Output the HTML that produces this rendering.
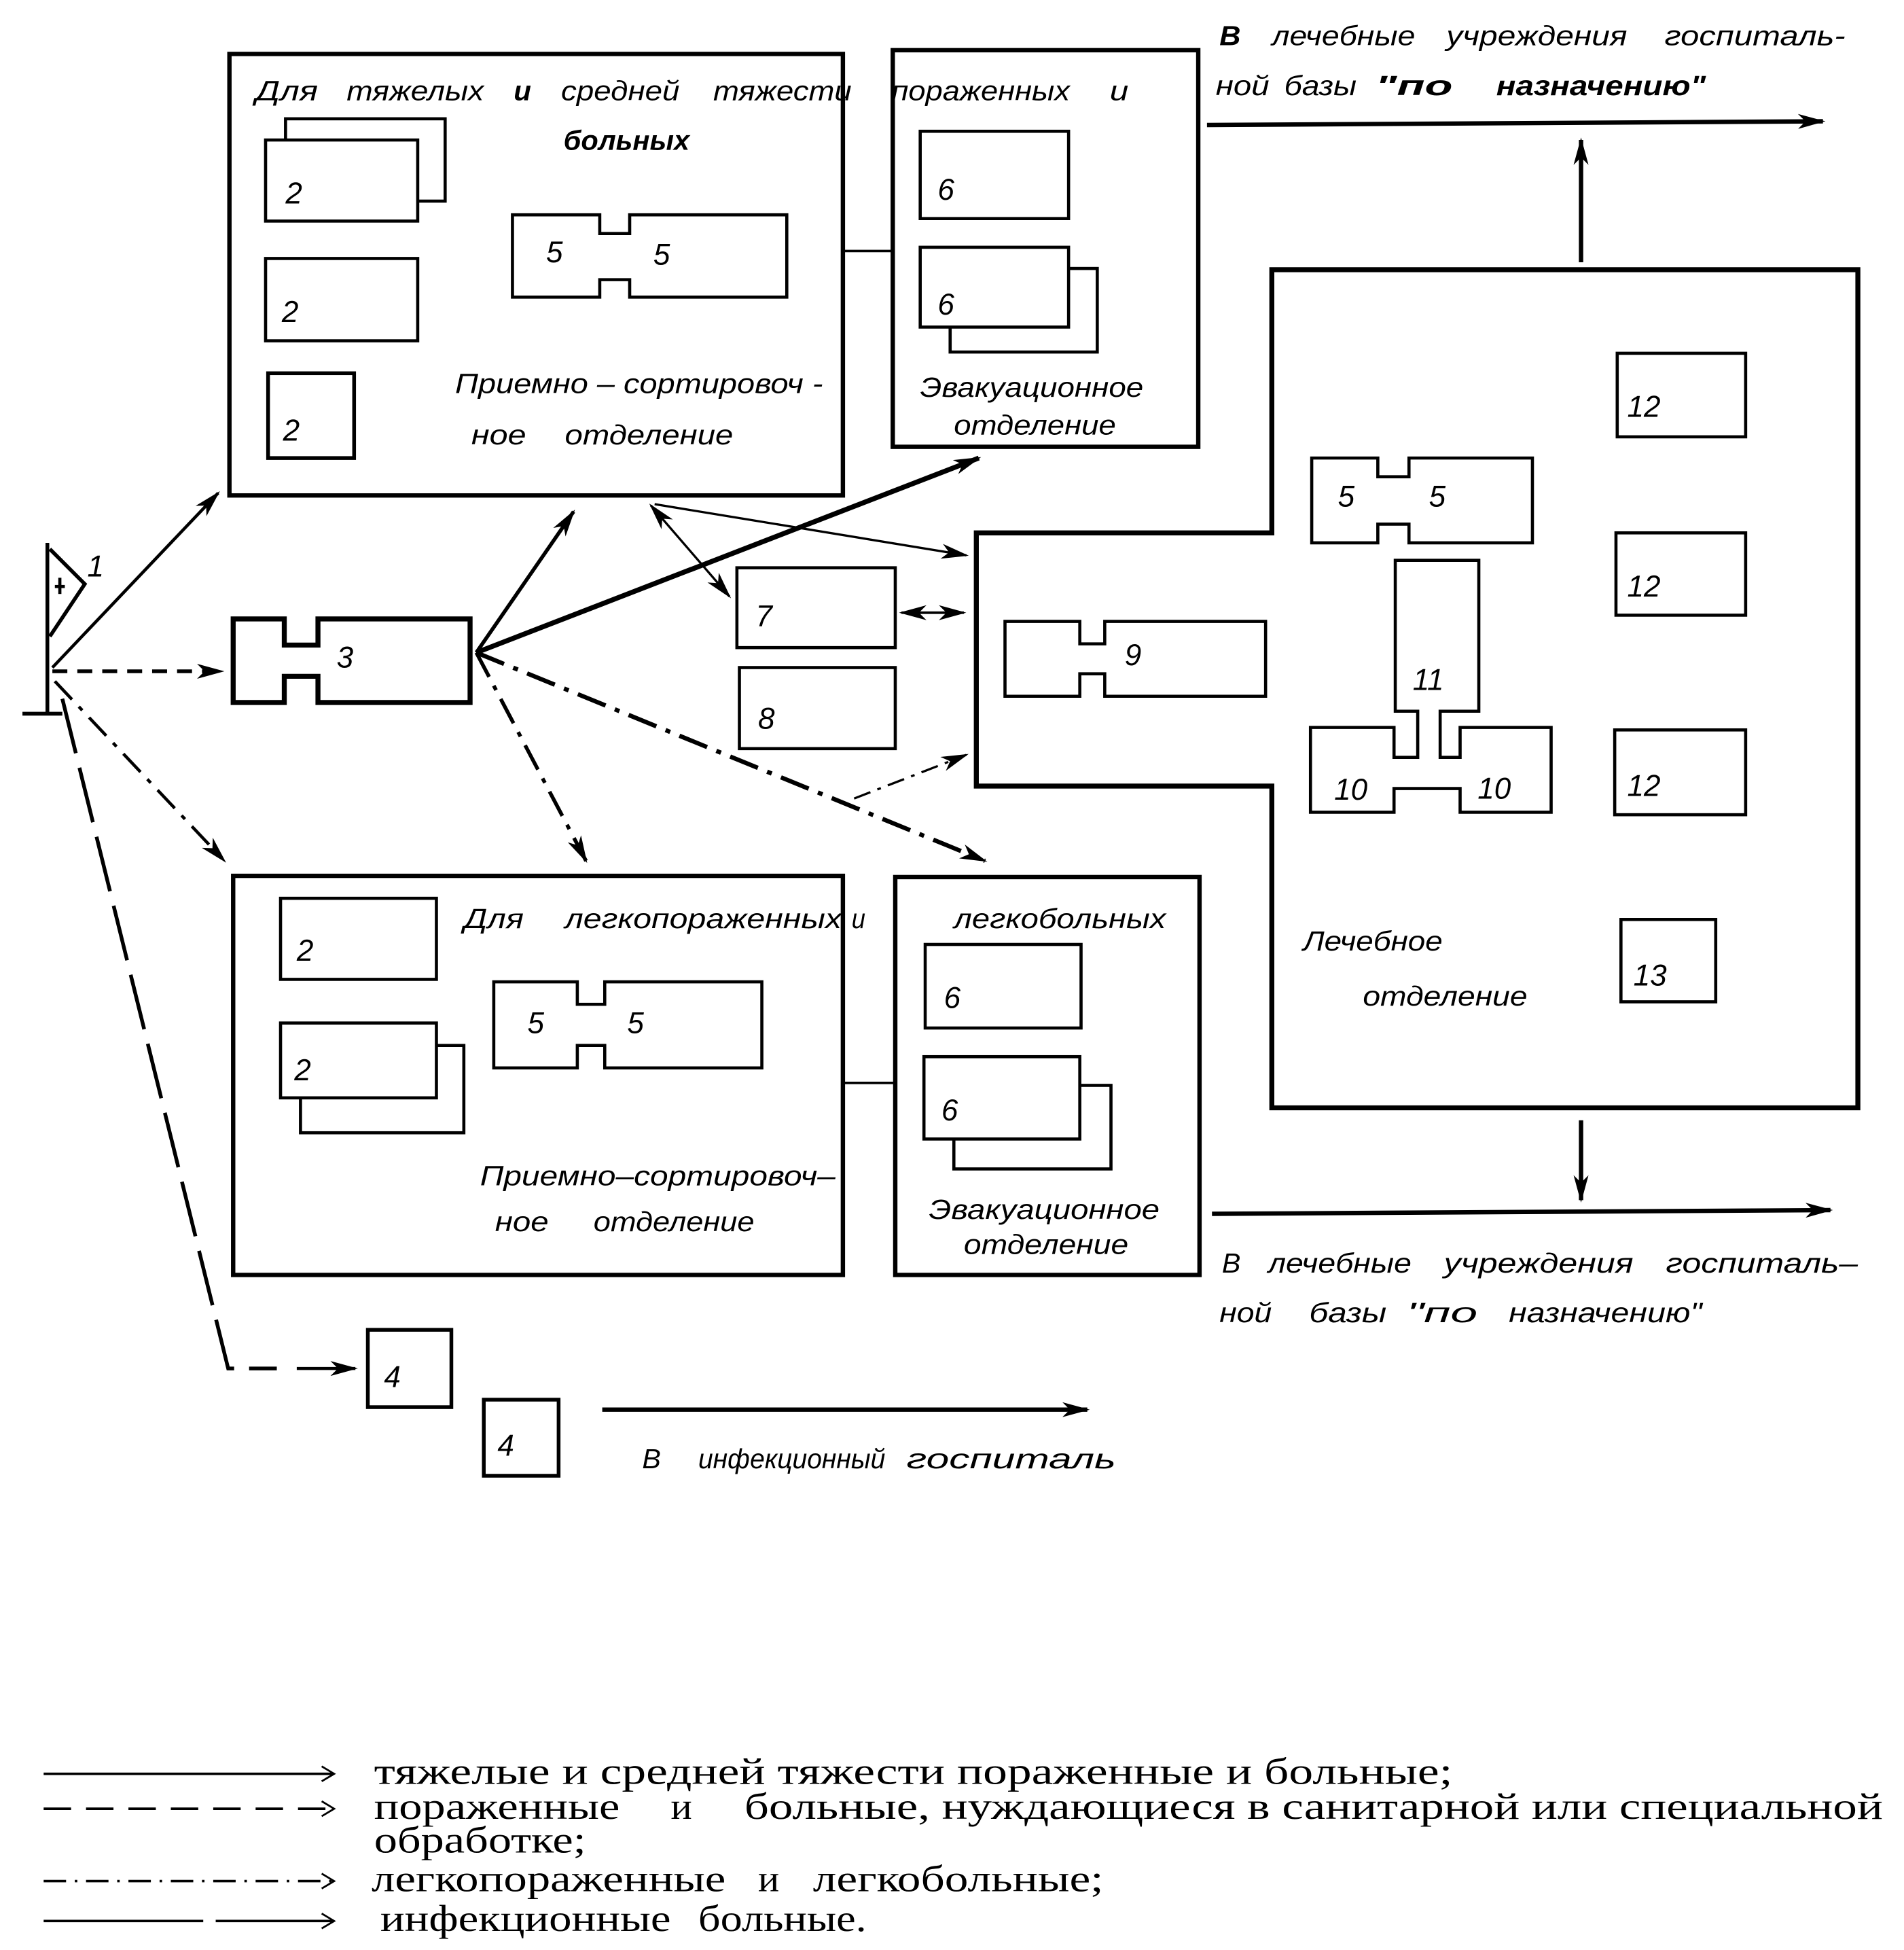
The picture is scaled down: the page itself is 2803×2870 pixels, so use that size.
<!DOCTYPE html>
<html><head><meta charset="utf-8">
<style>
html,body{margin:0;padding:0;background:#fff;}
svg{display:block;}
.t{font-family:"Liberation Sans","DejaVu Sans",sans-serif;font-style:italic;font-size:22px;fill:#000;}
.n{font-family:"Liberation Sans","DejaVu Sans",sans-serif;font-style:italic;font-size:24px;fill:#000;}
.l{font-family:"Liberation Serif","DejaVu Serif",serif;font-size:30px;fill:#000;}
</style></head>
<body>
<svg width="2803" height="2870" viewBox="0 0 1527 1563" xmlns="http://www.w3.org/2000/svg">
<defs>
<marker id="a" markerWidth="22" markerHeight="12" refX="20" refY="6" orient="auto" markerUnits="userSpaceOnUse">
<path d="M0,0 L22,6 L0,12 L6,6 Z" fill="#000"/>
</marker>
<marker id="s" markerWidth="22" markerHeight="12" refX="2" refY="6" orient="auto" markerUnits="userSpaceOnUse">
<path d="M22,0 L0,6 L22,12 L16,6 Z" fill="#000"/>
</marker>
<marker id="o" markerWidth="14" markerHeight="14" refX="12" refY="7" orient="auto" markerUnits="userSpaceOnUse">
<path d="M2,1 L12,7 L2,13" fill="none" stroke="#000" stroke-width="1.5"/>
</marker>
</defs>
<g fill="none" stroke="#000">
<rect x="184" y="43" width="492" height="354" stroke-width="3.5"/>
<rect x="716" y="40" width="245" height="318" stroke-width="3.5"/>
<line x1="676" y1="201" x2="716" y2="201" stroke-width="2"/>
<rect x="229" y="95" width="128" height="66" stroke-width="2.5"/>
<rect x="213" y="112" width="122" height="65" fill="#fff" stroke-width="2.5"/>
<rect x="213" y="207" width="122" height="66" stroke-width="2.5"/>
<rect x="215" y="299" width="69" height="68" stroke-width="3"/>
<path d="M411,172 H481 V187 H505 V172 H631 V238 H505 V224 H481 V238 H411 Z" stroke-width="2.5"/>
<rect x="738" y="105" width="119" height="70" stroke-width="2.5"/>
<rect x="762" y="215" width="118" height="67" stroke-width="2.5"/>
<rect x="738" y="198" width="119" height="64" fill="#fff" stroke-width="2.5"/>
<path d="M1020,216 H1490 V888 H1020 V630 H783 V427 H1020 Z" stroke-width="4"/>
<path d="M1052,367 H1105 V382 H1130 V367 H1229 V435 H1130 V420 H1105 V435 H1052 Z" stroke-width="2.5"/>
<rect x="1297" y="283" width="103" height="67" stroke-width="2.5"/>
<rect x="1296" y="427" width="104" height="66" stroke-width="2.5"/>
<rect x="1295" y="585" width="105" height="68" stroke-width="2.5"/>
<rect x="1300" y="737" width="76" height="66" stroke-width="2.5"/>
<path d="M1119,449 H1186 V570 H1155 V607 H1171 V583 H1244 V651 H1171 V632 H1118 V651 H1051 V583 H1118 V607 H1137 V570 H1119 Z" stroke-width="2.5"/>
<path d="M806,498 H866 V516 H886 V498 H1015 V558 H886 V540 H866 V558 H806 Z" stroke-width="2.5"/>
<rect x="591" y="455" width="127" height="64" stroke-width="2.5"/>
<rect x="593" y="535" width="125" height="65" stroke-width="2.5"/>
<path d="M187,496 H228 V517 H255 V496 H377 V563 H255 V542 H228 V563 H187 Z" stroke-width="4"/>
<line x1="38" y1="435" x2="38" y2="572" stroke-width="3"/>
<line x1="18" y1="572" x2="50" y2="572" stroke-width="3"/>
<path d="M40,440 L68,468 L40,510" stroke-width="3"/>
<line x1="44" y1="470" x2="52" y2="470" stroke-width="2.5"/>
<line x1="48" y1="463" x2="48" y2="476" stroke-width="2.5"/>
<rect x="187" y="702" width="489" height="320" stroke-width="3.5"/>
<rect x="718" y="703" width="244" height="319" stroke-width="3.5"/>
<line x1="676" y1="868" x2="718" y2="868" stroke-width="2"/>
<rect x="225" y="720" width="125" height="65" stroke-width="2.5"/>
<rect x="241" y="838" width="131" height="70" stroke-width="2.5"/>
<rect x="225" y="820" width="125" height="60" fill="#fff" stroke-width="2.5"/>
<path d="M396,787 H463 V805 H485 V787 H611 V856 H485 V838 H463 V856 H396 Z" stroke-width="2.5"/>
<rect x="742" y="757" width="125" height="67" stroke-width="2.5"/>
<rect x="765" y="870" width="126" height="67" stroke-width="2.5"/>
<rect x="741" y="847" width="125" height="66" fill="#fff" stroke-width="2.5"/>
<rect x="295" y="1066" width="67" height="62" stroke-width="3"/>
<rect x="388" y="1122" width="60" height="61" stroke-width="3"/>
<line x1="968" y1="100" x2="1462" y2="97" stroke-width="3.5" marker-end="url(#a)"/>
<line x1="1268" y1="210" x2="1268" y2="112" stroke-width="3.5" marker-end="url(#a)"/>
<line x1="1268" y1="898" x2="1268" y2="962" stroke-width="3.5" marker-end="url(#a)"/>
<line x1="972" y1="973" x2="1468" y2="970" stroke-width="3.5" marker-end="url(#a)"/>
<line x1="483" y1="1130" x2="872" y2="1130" stroke-width="3.5" marker-end="url(#a)"/>
<line x1="723" y1="491" x2="773" y2="491" stroke-width="2" marker-start="url(#s)" marker-end="url(#a)"/>
<line x1="42" y1="535" x2="175" y2="395" stroke-width="2.5" marker-end="url(#a)"/>
<line x1="42" y1="538" x2="178" y2="538" stroke-width="3" stroke-dasharray="12,8" marker-end="url(#a)"/>
<line x1="44" y1="546" x2="180" y2="690" stroke-width="2.5" stroke-dasharray="20,8,4,8" marker-end="url(#a)"/>
<polyline points="50,560 183,1097 222,1097" stroke-width="3" stroke-dasharray="45,12"/>
<line x1="238" y1="1097" x2="285" y2="1097" stroke-width="2.5" marker-end="url(#a)"/>
<line x1="382" y1="523" x2="460" y2="410" stroke-width="3" marker-end="url(#a)"/>
<line x1="382" y1="523" x2="785" y2="367" stroke-width="4" marker-end="url(#a)"/>
<line x1="382" y1="523" x2="470" y2="690" stroke-width="3" stroke-dasharray="22,8,4,8" marker-end="url(#a)"/>
<line x1="382" y1="523" x2="790" y2="690" stroke-width="3.5" stroke-dasharray="24,8,4,8" marker-end="url(#a)"/>
<line x1="522" y1="405" x2="585" y2="478" stroke-width="1.8" marker-start="url(#s)" marker-end="url(#a)"/>
<line x1="525" y1="404" x2="775" y2="445" stroke-width="1.8" marker-end="url(#a)"/>
<line x1="685" y1="640" x2="775" y2="605" stroke-width="1.8" stroke-dasharray="14,6,3,6" marker-end="url(#a)"/>
<line x1="35" y1="1422" x2="268" y2="1422" stroke-width="2" marker-end="url(#o)"/>
<line x1="35" y1="1450" x2="268" y2="1450" stroke-width="2" stroke-dasharray="22,12" marker-end="url(#o)"/>
<line x1="35" y1="1508" x2="268" y2="1508" stroke-width="2" stroke-dasharray="18,7,2,7" marker-end="url(#o)"/>
<line x1="35" y1="1540" x2="268" y2="1540" stroke-width="2" stroke-dasharray="128,10" marker-end="url(#o)"/>
</g>
<g lengthAdjust="spacingAndGlyphs">
<text class="t" x="205" y="80" textLength="50" lengthAdjust="spacingAndGlyphs">Для</text>
<text class="t" x="278" y="80" textLength="110" lengthAdjust="spacingAndGlyphs">тяжелых</text>
<text class="t" x="412" y="80" font-weight="bold" textLength="14" lengthAdjust="spacingAndGlyphs">и</text>
<text class="t" x="450" y="80" textLength="95" lengthAdjust="spacingAndGlyphs">средней</text>
<text class="t" x="572" y="80" textLength="111" lengthAdjust="spacingAndGlyphs">тяжести</text>
<text class="t" x="715" y="80" textLength="143" lengthAdjust="spacingAndGlyphs">пораженных</text>
<text class="t" x="890" y="80" textLength="15" lengthAdjust="spacingAndGlyphs">и</text>
<text class="t" x="452" y="120" font-weight="bold" textLength="101" lengthAdjust="spacingAndGlyphs">больных</text>
<text class="t" x="365" y="315" textLength="295" lengthAdjust="spacingAndGlyphs">Приемно – сортировоч -</text>
<text class="t" x="378" y="356" textLength="44" lengthAdjust="spacingAndGlyphs">ное</text>
<text class="t" x="453" y="356" textLength="135" lengthAdjust="spacingAndGlyphs">отделение</text>
<text class="t" x="738" y="318" textLength="179" lengthAdjust="spacingAndGlyphs">Эвакуационное</text>
<text class="t" x="765" y="348" textLength="130" lengthAdjust="spacingAndGlyphs">отделение</text>
<text class="t" x="978" y="36" font-weight="bold" textLength="17" lengthAdjust="spacingAndGlyphs">В</text>
<text class="t" x="1020" y="36" textLength="115" lengthAdjust="spacingAndGlyphs">лечебные</text>
<text class="t" x="1160" y="36" textLength="145" lengthAdjust="spacingAndGlyphs">учреждения</text>
<text class="t" x="1335" y="36" textLength="145" lengthAdjust="spacingAndGlyphs">госпиталь-</text>
<text class="t" x="975" y="76" textLength="43" lengthAdjust="spacingAndGlyphs">ной</text>
<text class="t" x="1030" y="76" textLength="58" lengthAdjust="spacingAndGlyphs">базы</text>
<text class="t" x="1103" y="76" font-weight="bold" textLength="62" lengthAdjust="spacingAndGlyphs">"по</text>
<text class="t" x="1200" y="76" font-weight="bold" textLength="168" lengthAdjust="spacingAndGlyphs">назначению"</text>
<text class="t" x="1045" y="762" textLength="112" lengthAdjust="spacingAndGlyphs">Лечебное</text>
<text class="t" x="1093" y="806" textLength="132" lengthAdjust="spacingAndGlyphs">отделение</text>
<text class="t" x="980" y="1020" textLength="15" lengthAdjust="spacingAndGlyphs">В</text>
<text class="t" x="1017" y="1020" textLength="115" lengthAdjust="spacingAndGlyphs">лечебные</text>
<text class="t" x="1158" y="1020" textLength="152" lengthAdjust="spacingAndGlyphs">учреждения</text>
<text class="t" x="1336" y="1020" textLength="154" lengthAdjust="spacingAndGlyphs">госпиталь–</text>
<text class="t" x="978" y="1060" textLength="42" lengthAdjust="spacingAndGlyphs">ной</text>
<text class="t" x="1050" y="1060" textLength="62" lengthAdjust="spacingAndGlyphs">базы</text>
<text class="t" x="1128" y="1060" textLength="57" lengthAdjust="spacingAndGlyphs">"по</text>
<text class="t" x="1210" y="1060" textLength="155" lengthAdjust="spacingAndGlyphs">назначению"</text>
<text class="t" x="372" y="744" textLength="48" lengthAdjust="spacingAndGlyphs">Для</text>
<text class="t" x="453" y="744" textLength="222" lengthAdjust="spacingAndGlyphs">легкопораженных</text>
<text class="t" x="683" y="744" textLength="11" lengthAdjust="spacingAndGlyphs">и</text>
<text class="t" x="765" y="744" textLength="170" lengthAdjust="spacingAndGlyphs">легкобольных</text>
<text class="t" x="385" y="950" textLength="285" lengthAdjust="spacingAndGlyphs">Приемно–сортировоч–</text>
<text class="t" x="397" y="987" textLength="43" lengthAdjust="spacingAndGlyphs">ное</text>
<text class="t" x="476" y="987" textLength="129" lengthAdjust="spacingAndGlyphs">отделение</text>
<text class="t" x="745" y="977" textLength="185" lengthAdjust="spacingAndGlyphs">Эвакуационное</text>
<text class="t" x="773" y="1005" textLength="132" lengthAdjust="spacingAndGlyphs">отделение</text>
<text class="t" x="515" y="1177" textLength="15" lengthAdjust="spacingAndGlyphs">В</text>
<text class="t" x="560" y="1177" textLength="150" lengthAdjust="spacingAndGlyphs">инфекционный</text>
<text class="t" x="727" y="1177" textLength="168" lengthAdjust="spacingAndGlyphs">госпиталь</text>
<text class="n" x="229" y="163">2</text>
<text class="n" x="226" y="258">2</text>
<text class="n" x="227" y="353">2</text>
<text class="n" x="438" y="210">5</text>
<text class="n" x="524" y="212">5</text>
<text class="n" x="752" y="160">6</text>
<text class="n" x="752" y="252">6</text>
<text class="n" x="1073" y="406">5</text>
<text class="n" x="1146" y="406">5</text>
<text class="n" x="1305" y="334">12</text>
<text class="n" x="1305" y="478">12</text>
<text class="n" x="1305" y="638">12</text>
<text class="n" x="1310" y="790">13</text>
<text class="n" x="1133" y="553">11</text>
<text class="n" x="1070" y="641">10</text>
<text class="n" x="1185" y="640">10</text>
<text class="n" x="902" y="533">9</text>
<text class="n" x="606" y="502">7</text>
<text class="n" x="608" y="584">8</text>
<text class="n" x="270" y="535">3</text>
<text class="n" x="70" y="462">1</text>
<text class="n" x="238" y="770">2</text>
<text class="n" x="236" y="866">2</text>
<text class="n" x="423" y="828">5</text>
<text class="n" x="503" y="828">5</text>
<text class="n" x="757" y="808">6</text>
<text class="n" x="755" y="898">6</text>
<text class="n" x="308" y="1112">4</text>
<text class="n" x="399" y="1167">4</text>
<text class="l" x="300" y="1430" textLength="865" lengthAdjust="spacingAndGlyphs">тяжелые и средней тяжести пораженные и больные;</text>
<text class="l" x="300" y="1458" textLength="197" lengthAdjust="spacingAndGlyphs">пораженные</text>
<text class="l" x="538" y="1458" textLength="17" lengthAdjust="spacingAndGlyphs">и</text>
<text class="l" x="597" y="1458" textLength="913" lengthAdjust="spacingAndGlyphs">больные, нуждающиеся в санитарной или специальной</text>
<text class="l" x="300" y="1485" textLength="170" lengthAdjust="spacingAndGlyphs">обработке;</text>
<text class="l" x="298" y="1516" textLength="284" lengthAdjust="spacingAndGlyphs">легкопораженные</text>
<text class="l" x="608" y="1516" textLength="17" lengthAdjust="spacingAndGlyphs">и</text>
<text class="l" x="652" y="1516" textLength="233" lengthAdjust="spacingAndGlyphs">легкобольные;</text>
<text class="l" x="305" y="1548" textLength="233" lengthAdjust="spacingAndGlyphs">инфекционные</text>
<text class="l" x="560" y="1548" textLength="135" lengthAdjust="spacingAndGlyphs">больные.</text>
</g>
</svg>
</body></html>
